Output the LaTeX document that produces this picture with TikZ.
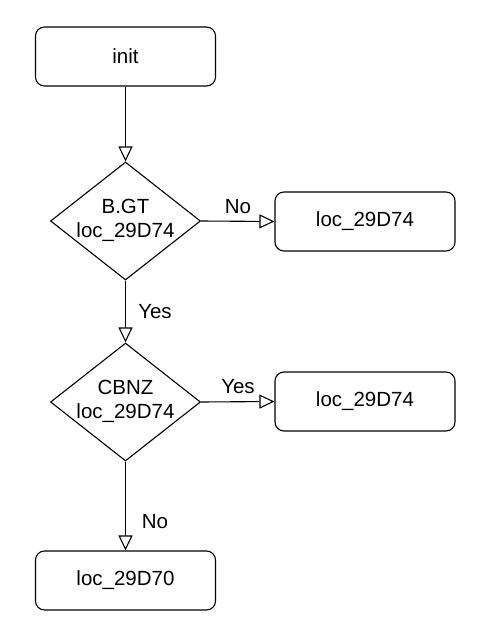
\documentclass[tikz,border=0pt]{standalone}
\usepackage{fontspec}
\setmainfont{Liberation Sans}
\usetikzlibrary{shapes.geometric,arrows.meta}
\begin{document}
\begin{tikzpicture}[x=1pt,y=-1pt,
  every node/.style={font=\fontsize{20.5}{24}\selectfont},
  box/.style={draw,line width=1.1pt,rounded corners=9pt,minimum width=180pt,minimum height=59pt,inner sep=0pt},
  dec/.style={draw,line width=1.1pt,diamond,minimum width=150pt,minimum height=118pt,inner sep=0pt},
  txt/.style={align=center,inner sep=0pt},
  lbl/.style={inner sep=0pt,anchor=base},
  conn/.style={line width=1.1pt,-{Triangle[open,length=15pt,width=14pt,line width=1.1pt]}}]
\useasboundingbox (0,0) rectangle (495,636);
\node[box] (init) at (125.5,56.5) {init};
\node[dec] (d1) at (125.5,221) {};
\node[txt] (d1t) at (125.5,220) {B.GT\\loc\_29D74};
\node[box] (r1) at (365,221.5) {loc\_29D74};
\node[dec] (d2) at (125.5,402) {};
\node[txt] (d2t) at (125.5,401) {CBNZ\\loc\_29D74};
\node[box] (r2) at (365,401.5) {loc\_29D74};
\node[box] (b) at (125.5,580.5) {loc\_29D70};
\draw[conn] (init) -- (d1.north);
\draw[conn] (d1.east) -- (r1.west);
\draw[conn] (d1.south) -- (d2.north);
\draw[conn] (d2.east) -- (r2.west);
\draw[conn] (d2.south) -- (b.north);
\node[lbl] (l1) at (238,213) {No};
\node[lbl] (l2) at (155,318) {Yes};
\node[lbl] (l3) at (238,393) {Yes};
\node[lbl] (l4) at (155,528) {No};
\end{tikzpicture}
\end{document}
